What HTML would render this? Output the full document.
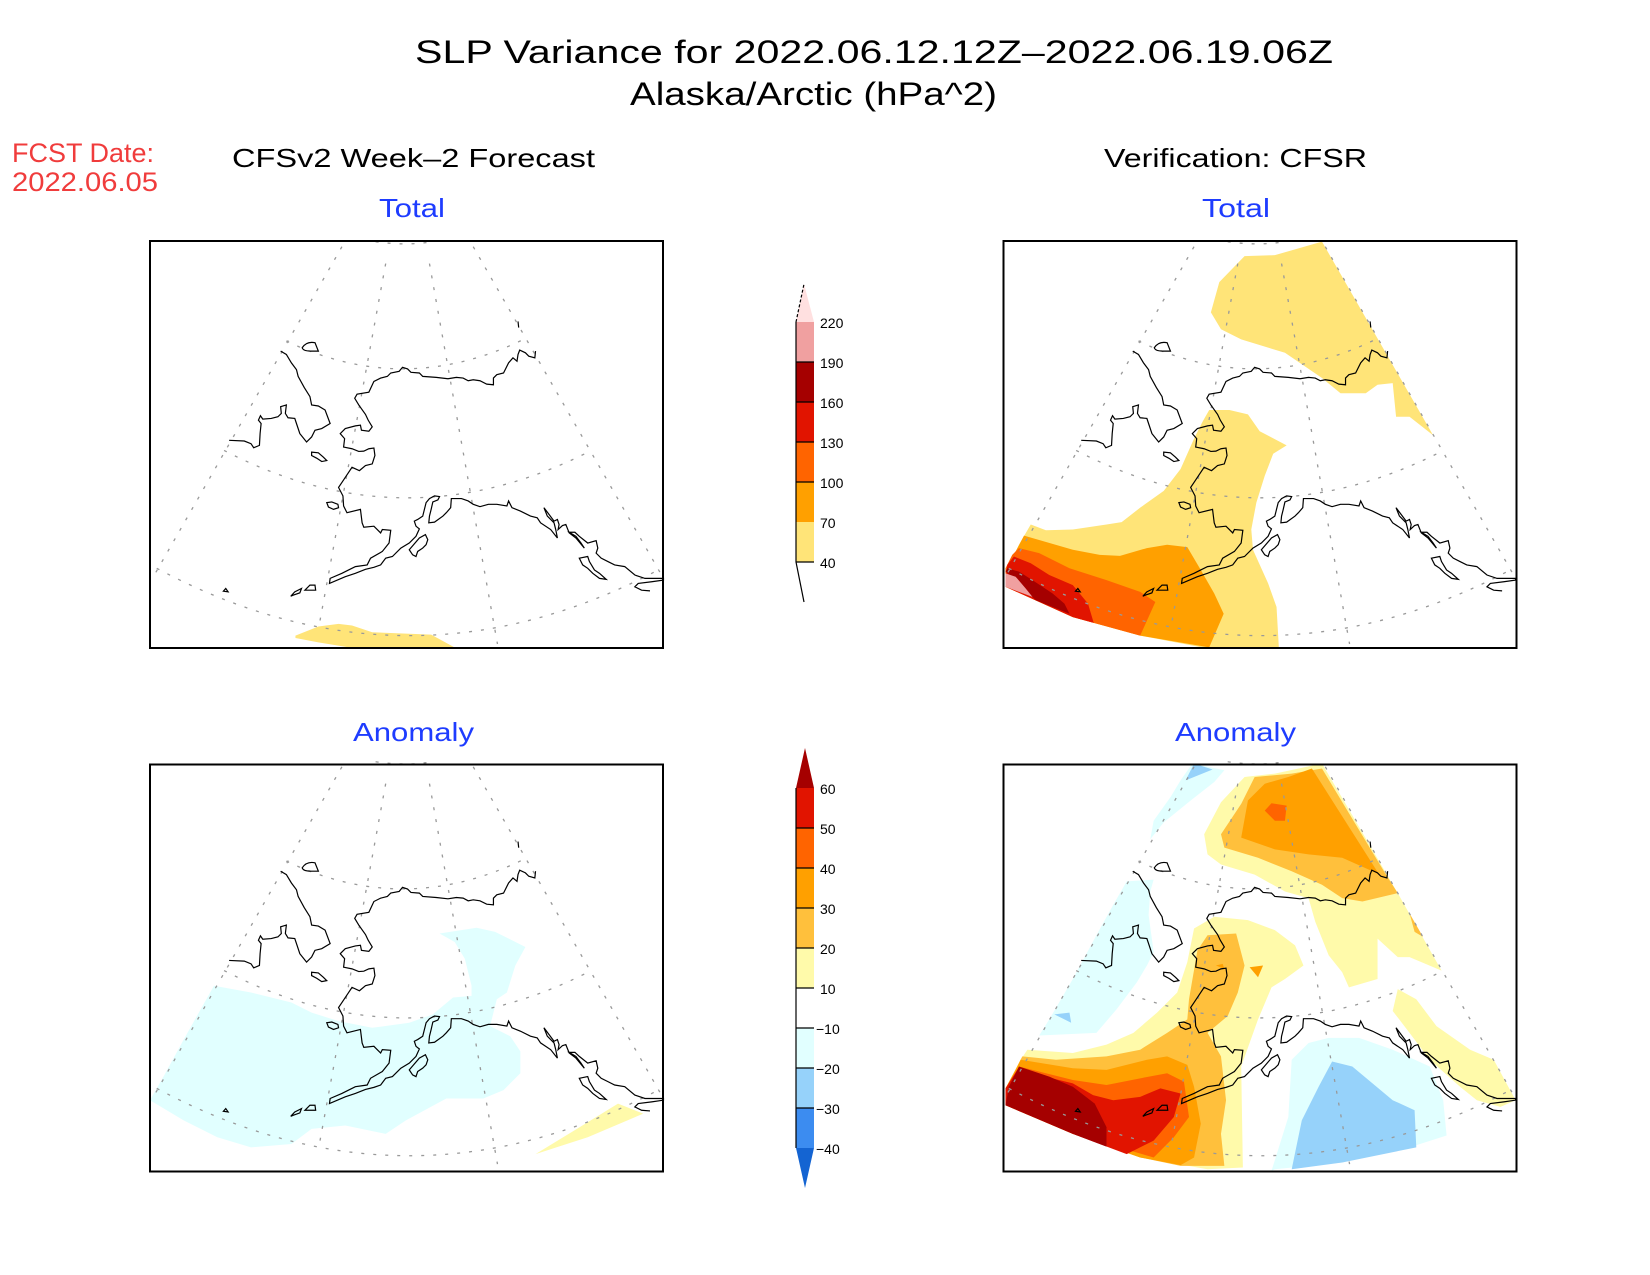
<!DOCTYPE html>
<html><head><meta charset="utf-8"><style>
html,body{margin:0;padding:0;background:#fff;}
svg{display:block;}
text{font-family:"Liberation Sans",sans-serif;}
</style></head><body>
<svg width="1650" height="1275" viewBox="0 0 1650 1275" xmlns="http://www.w3.org/2000/svg">
<defs>
<g id="map">
 <g fill="none" stroke="#999" stroke-width="1.3" stroke-dasharray="3,9">
  <path d="M405,300 Q760,470 1120,290" vector-effect="non-scaling-stroke"/>
  <path d="M220,625 Q760,905 1305,628" vector-effect="non-scaling-stroke"/>
  <path d="M20,975 Q760,1370 1500,985" vector-effect="non-scaling-stroke"/>
  <path d="M670,5 Q760,18 840,5" vector-effect="non-scaling-stroke"/>
  <path d="M570,20 L10,1000" vector-effect="non-scaling-stroke"/>
  <path d="M700,70 L505,1130" vector-effect="non-scaling-stroke"/>
  <path d="M830,70 L1032,1200" vector-effect="non-scaling-stroke"/>
  <path d="M960,20 L1525,1005" vector-effect="non-scaling-stroke"/>
 </g>
 <g fill="none" stroke="#000" stroke-width="1.2">
  <path vector-effect="non-scaling-stroke" d="M235,595 L280,597 L300,605 L308,617 L325,610 L327,575 L330,545 L322,535 L328,522 L335,532 L360,530 L380,525 L390,515 L388,495 L405,490 L402,515 L410,528 L430,530 L435,545 L445,575 L465,600 L480,585 L490,565 L510,560 L535,545 L520,505 L500,493 L480,490 L475,465 L458,438 L440,405 L435,385 L420,365 L405,340 L388,330"/>
  <path vector-effect="non-scaling-stroke" d="M452,320 Q465,300 490,305 L500,330 L478,330 Q455,330 452,320 Z"/>
  <path vector-effect="non-scaling-stroke" d="M1093,242 L1095,260"/>
  <path vector-effect="non-scaling-stroke" d="M1145,330 L1143,350 L1125,345 L1115,335 L1098,327 L1093,340 L1090,360 L1078,350 L1065,365 L1050,395 L1030,400 L1020,410 L1020,430 L1000,428 L980,418 L960,415 L945,418 L930,410 L910,408 L885,412 L850,408 L810,405 L800,395 L775,393 L765,383 L750,378 L740,390 L715,395 L705,405 L685,410 L665,420 L650,452 L615,458 L608,470 L620,490 L640,518 L648,535 L660,555 L650,568 L628,565 L625,550 L610,552 L580,560 L565,575 L578,590 L575,615 L600,620 L620,628 L635,627 L650,620 L665,618 L668,640 L660,665 L640,670 L622,685 L600,675 L590,690 L570,720 L560,735 L573,760 L575,790 L585,810 L625,800 L630,840 L635,853 L665,850 L675,860 L685,870 L690,860 L715,862 L710,900 L690,925 L655,945 L645,965 L610,970 L590,980 L570,990 L535,1005 L533,1020 L580,1000 L610,990 L640,978 L665,972 L685,965 L700,945 L720,940 L745,915 L770,900 L790,880 L800,858 L790,850 L785,835 L795,830 L810,820 L815,800 L820,780 L830,768 L845,760 L860,762 L855,772 L840,778 L835,800 L830,820 L828,840 L845,838 L870,820 L880,810 L893,795 L895,768 L925,768 L945,775 L960,785 L980,792 L1005,785 L1030,785 L1060,790 L1065,775 L1075,795 L1100,805 L1130,820 L1150,825 L1160,840 L1190,860 L1210,885 L1205,860 L1200,840 L1180,820 L1170,795 L1185,815 L1200,835 L1210,830 L1215,845 L1212,860 L1225,848 L1235,845 L1245,870 L1265,885 L1290,915 L1280,900 L1265,880 L1245,868 L1262,868 L1275,880 L1300,900 L1325,893 L1330,915 L1325,930 L1340,945 L1360,955 L1380,965 L1410,970 L1440,995 L1470,1005 L1525,1005 L1525,1010 L1490,1015 L1450,1020 L1440,1030 L1460,1040 L1485,1042"/>
  <path vector-effect="non-scaling-stroke" d="M525,780 L540,778 L558,785 L560,795 L545,800 L530,793 Z"/>
  <path vector-effect="non-scaling-stroke" d="M480,630 L500,632 L515,645 L525,655 L510,658 L495,648 L480,640 Z"/>
  <path vector-effect="non-scaling-stroke" d="M770,920 L800,885 L818,875 L825,890 L820,905 L810,915 L795,925 L790,940 L780,935 Z"/>
  <path vector-effect="non-scaling-stroke" d="M1275,945 L1300,940 L1305,955 L1320,980 L1335,990 L1355,1008 L1335,1005 L1315,990 L1300,975 L1285,965 Z"/>
  <path vector-effect="non-scaling-stroke" d="M418,1058 L430,1045 L450,1035 L445,1048 L425,1055 Z"/>
  <path vector-effect="non-scaling-stroke" d="M460,1040 L475,1025 L490,1025 L492,1040 Z"/>
  <path vector-effect="non-scaling-stroke" d="M218,1043 L225,1035 L232,1045 Z"/>
 </g>
</g>
<clipPath id="c1"><rect x="150" y="241" width="513" height="407"/></clipPath>
<clipPath id="c2"><rect x="1007" y="241" width="513" height="407"/></clipPath>
<clipPath id="c3"><rect x="150" y="769" width="513" height="407"/></clipPath>
<clipPath id="c4"><rect x="1007" y="769" width="513" height="407"/></clipPath>
</defs>

<!-- Titles -->
<text x="415" y="63" font-size="32" textLength="918" lengthAdjust="spacingAndGlyphs">SLP Variance for 2022.06.12.12Z–2022.06.19.06Z</text>
<text x="630" y="105" font-size="32" textLength="367" lengthAdjust="spacingAndGlyphs">Alaska/Arctic (hPa^2)</text>
<text x="12" y="162" font-size="27" fill="#f03c3c" textLength="142" lengthAdjust="spacingAndGlyphs">FCST Date:</text>
<text x="12" y="191" font-size="27" fill="#f03c3c" textLength="146" lengthAdjust="spacingAndGlyphs">2022.06.05</text>
<text x="232" y="167" font-size="26" textLength="363" lengthAdjust="spacingAndGlyphs">CFSv2 Week–2 Forecast</text>
<text x="1104" y="167" font-size="26" textLength="263" lengthAdjust="spacingAndGlyphs">Verification: CFSR</text>
<text x="379" y="217" font-size="26" fill="#1e3cff" textLength="66" lengthAdjust="spacingAndGlyphs">Total</text>
<text x="1202" y="217" font-size="26" fill="#1e3cff" textLength="68" lengthAdjust="spacingAndGlyphs">Total</text>
<text x="353" y="741" font-size="26" fill="#1e3cff" textLength="121" lengthAdjust="spacingAndGlyphs">Anomaly</text>
<text x="1175" y="741" font-size="26" fill="#1e3cff" textLength="121" lengthAdjust="spacingAndGlyphs">Anomaly</text>

<!-- Panel 1 -->
<g clip-path="url(#c1)"><g transform="translate(150,240) scale(0.3367)">
 <polygon fill="#ffe478" points="432,1175 500,1148 560,1140 600,1145 660,1165 835,1172 910,1213 610,1213 500,1195 432,1182"/>
</g></g>
<g transform="translate(150,240) scale(0.3367)"><use href="#map"/></g>
<rect x="150" y="241" width="513" height="407" fill="none" stroke="#000" stroke-width="2"/>

<!-- Panel 2 -->
<g transform="translate(-3.5,0)">
<g clip-path="url(#c2)"><g transform="translate(1009,240) scale(0.3367)">
 <polygon fill="#ffe478" points="610,215 635,125 710,48 800,45 940,5 1270,580 1200,525 1160,525 1150,425 1105,430 1070,455 995,455 940,410 830,335 700,295 640,265"/>
 <polygon fill="#ffe478" points="605,505 665,505 720,518 755,568 835,610 795,635 770,700 745,780 730,860 735,920 780,1020 805,1090 812,1213 600,1213 400,1175 200,1120 0,1030 0,990 40,905 75,845 120,862 200,860 300,845 345,838 400,795 470,745 520,680 560,590 585,540"/>
 <polygon fill="#ffa000" points="55,878 200,920 280,935 340,938 420,915 480,905 540,912 580,980 620,1050 648,1110 605,1210 400,1175 200,1120 0,1030 0,985 30,925"/>
 <polygon fill="#ff6400" points="40,915 100,930 190,975 300,1010 400,1045 445,1075 400,1175 200,1120 0,1030 0,975 20,935"/>
 <polygon fill="#e11400" points="25,940 75,960 130,995 200,1025 245,1080 262,1137 200,1120 0,1030 5,965"/>
 <polygon fill="#a50000" points="5,975 40,985 80,1010 140,1050 175,1080 190,1110 90,1070 60,1040 20,1000 0,985"/>
 <polygon fill="#f0a0a0" points="0,990 30,1000 60,1035 80,1060 0,1030"/>
</g></g>
<g transform="translate(1005.6,240) scale(0.3367)"><use href="#map"/></g>
<rect x="1007" y="241" width="513" height="407" fill="none" stroke="#000" stroke-width="2"/>
</g>

<g transform="translate(0,-4.5)">
<!-- Panel 3 -->
<g clip-path="url(#c3)"><g transform="translate(150,768) scale(0.3367)">
 <polygon fill="#e1ffff" points="0,1000 40,930 100,820 190,660 300,680 420,710 480,740 560,765 660,785 770,770 840,745 900,695 955,690 955,660 935,580 905,530 860,505 970,488 1025,500 1115,545 1085,600 1060,680 1030,700 1010,780 1070,810 1100,855 1100,920 1050,970 990,995 880,995 760,1060 700,1100 580,1075 480,1085 420,1130 300,1140 200,1110 100,1060"/>
 <polygon fill="#fffaaa" points="1145,1160 1260,1090 1390,1010 1465,1040 1300,1110"/>
</g></g>
<g transform="translate(150,764.6) scale(0.3367)"><use href="#map"/></g>
<rect x="150" y="769" width="513" height="407" fill="none" stroke="#000" stroke-width="2"/>

<!-- Panel 4 -->
<g transform="translate(-3.5,0)">
<g clip-path="url(#c4)"><g transform="translate(1009,768) scale(0.3367)">
 <polygon fill="#e1ffff" points="520,50 555,0 650,20 620,55 550,110 470,175 430,225 440,170 490,100"/>
 <polygon fill="#96d2fa" points="535,50 560,0 615,18"/>
 <polygon fill="#e1ffff" points="360,350 440,345 430,380 425,450 440,560 420,600 390,650 330,730 270,800 100,808 130,760 200,640 270,510 320,420"/>
 <polygon fill="#96d2fa" points="145,745 190,740 195,770"/>
 <polygon fill="#fffaaa" points="590,210 640,115 710,40 800,30 940,0 1165,385 1105,400 1060,410 1000,420 900,400 830,380 740,330 640,300 600,270"/>
 <polygon fill="#fffaaa" points="900,400 1165,385 1295,615 1200,575 1165,575 1105,520 1105,640 1020,665 1000,620 960,570 920,470"/>
 <polygon fill="#fffaaa" points="560,490 620,455 720,465 800,495 860,540 885,600 830,640 790,665 750,760 700,900 705,1200 600,1205 400,1170 200,1100 0,1015 0,965 45,880 65,850 200,860 300,835 380,800 450,740 510,680 540,590"/>
 <polygon fill="#fffaaa" points="1165,670 1220,700 1280,780 1380,850 1450,880 1515,1000 1470,1020 1400,1000 1350,960 1260,880 1200,800 1150,735"/>
 <polygon fill="#ffc03c" points="640,210 700,120 740,40 850,30 940,15 1130,330 1165,385 1060,410 1000,400 940,360 850,320 750,280 650,250"/>
 <polygon fill="#ffc03c" points="570,555 600,510 685,505 710,600 690,680 660,750 600,800 640,870 655,1000 640,1100 650,1195 520,1195 400,1170 200,1100 0,1015 0,965 50,870 150,880 300,870 400,850 480,800 540,760 545,700"/>
 <polygon fill="#ffc03c" points="1200,445 1240,515 1215,500"/>
 <polygon fill="#ffa000" points="700,220 720,110 770,60 840,40 910,15 1110,330 1090,320 1000,280 900,270 800,255"/>
 <polygon fill="#ffa000" points="45,880 200,905 300,910 420,880 480,870 540,895 560,960 580,1070 560,1170 520,1193 400,1170 200,1100 0,1015 0,965 30,910"/>
 <polygon fill="#ffa000" points="625,600 645,595 650,610"/>
 <polygon fill="#ffa000" points="725,605 765,600 750,635"/>
 <polygon fill="#ff6400" points="770,140 790,118 835,125 830,170 800,170"/>
 <polygon fill="#ff6400" points="40,900 200,940 300,955 400,935 480,920 530,945 545,1050 500,1110 440,1170 200,1100 0,1015 0,965"/>
 <polygon fill="#e11400" points="35,910 200,950 260,985 320,1000 400,990 460,965 520,980 500,1050 440,1120 360,1160 200,1100 0,1015 0,965"/>
 <polygon fill="#a50000" points="40,900 130,930 200,960 265,1010 300,1080 300,1138 200,1100 0,1015 10,960"/>
 <polygon fill="#e1ffff" points="850,880 900,830 960,815 1050,815 1150,850 1260,900 1300,1000 1310,1105 1200,1140 1000,1185 800,1205 790,1210 840,1050"/>
 <polygon fill="#96d2fa" points="970,885 1030,900 1150,1000 1215,1030 1220,1140 1000,1185 850,1205 880,1060 930,960"/>
</g></g>
<g transform="translate(1005.6,764.6) scale(0.3367)"><use href="#map"/></g>
<rect x="1007" y="769" width="513" height="407" fill="none" stroke="#000" stroke-width="2"/>
</g>
</g>

<!-- Colorbar 1 -->
<g>
 <polygon fill="#ffe0e0" points="796,322 814,322 804,284"/>
 <rect x="796" y="322" width="18" height="40" fill="#f0a0a0"/>
 <rect x="796" y="362" width="18" height="40" fill="#a50000"/>
 <rect x="796" y="402" width="18" height="40" fill="#e11400"/>
 <rect x="796" y="442" width="18" height="40" fill="#ff6400"/>
 <rect x="796" y="482" width="18" height="40" fill="#ffa000"/>
 <rect x="796" y="522" width="18" height="40" fill="#ffe478"/>
 <g stroke="#000" stroke-width="1.2" fill="none">
  <path d="M796,322 L804,284" stroke-dasharray="3,2"/>
  <path d="M796,322 L796,562 L804,602"/>
  <path d="M796,362 H814 M796,402 H814 M796,442 H814 M796,482 H814 M796,562 H814"/>
 </g>
 <g font-size="14">
  <text x="820" y="328">220</text><text x="820" y="368">190</text><text x="820" y="408">160</text>
  <text x="820" y="448">130</text><text x="820" y="488">100</text><text x="820" y="528">70</text><text x="820" y="568">40</text>
 </g>
</g>

<!-- Colorbar 2 -->
<g transform="translate(0,-5)">
 <polygon fill="#a50000" points="796,793 814,793 805,753"/>
 <rect x="796" y="793" width="18" height="40" fill="#e11400"/>
 <rect x="796" y="833" width="18" height="40" fill="#ff6400"/>
 <rect x="796" y="873" width="18" height="40" fill="#ffa000"/>
 <rect x="796" y="913" width="18" height="40" fill="#ffc03c"/>
 <rect x="796" y="953" width="18" height="40" fill="#fffaaa"/>
 <rect x="796" y="993" width="18" height="40" fill="#ffffff"/>
 <rect x="796" y="1033" width="18" height="40" fill="#e1ffff"/>
 <rect x="796" y="1073" width="18" height="40" fill="#96d2fa"/>
 <rect x="796" y="1113" width="18" height="40" fill="#3c8cf0"/>
 <polygon fill="#1464d2" points="796,1153 814,1153 805,1193"/>
 <g stroke="#000" stroke-width="1.2" fill="none">
  <path d="M796,793 V1153"/>
  <path d="M796,833 H814 M796,873 H814 M796,913 H814 M796,953 H814 M796,993 H814 M796,1033 H814 M796,1073 H814 M796,1113 H814"/>
 </g>
 <g font-size="14">
  <text x="820" y="799">60</text><text x="820" y="839">50</text><text x="820" y="879">40</text>
  <text x="820" y="919">30</text><text x="820" y="959">20</text><text x="820" y="999">10</text>
  <text x="816" y="1039">−10</text><text x="816" y="1079">−20</text><text x="816" y="1119">−30</text><text x="816" y="1159">−40</text>
 </g>
</g>
</svg>
</body></html>
